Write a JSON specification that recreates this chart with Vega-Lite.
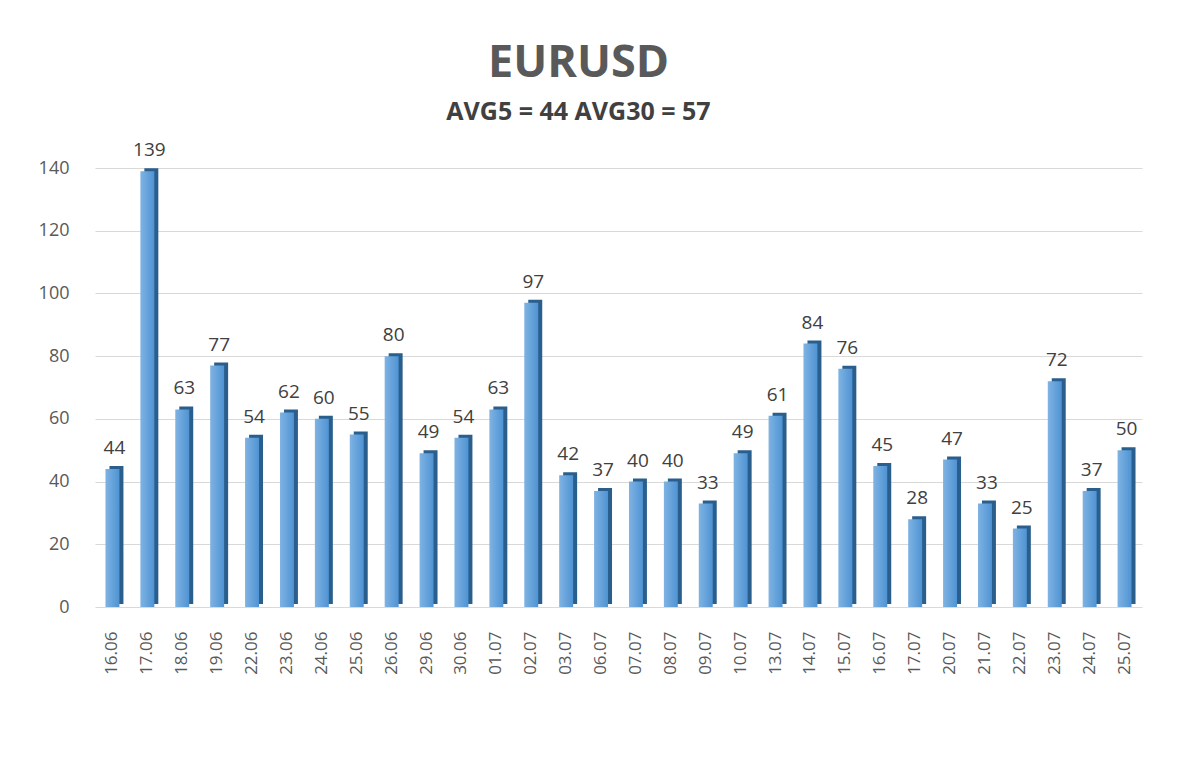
{
  "$schema": "https://vega.github.io/schema/vega-lite/v6.json",
  "autosize": {"type": "none"},
  "width": 1047,
  "height": 439,
  "padding": {"left": 95, "top": 168, "right": 58, "bottom": 153},
  "background": "white",
  "title": {
    "text": "EURUSD",
    "subtitle": "AVG5 = 44 AVG30 = 57",
    "anchor": "middle",
    "dx": -40,
    "offset": 16,
    "font": "Open Sans",
    "fontSize": 45,
    "fontWeight": "bold",
    "color": "#595959",
    "subtitleFont": "Open Sans",
    "subtitleFontSize": 25,
    "subtitleFontWeight": "bold",
    "subtitleColor": "#404040",
    "subtitlePadding": 14
  },
  "data": {
    "values": [
      {"date": "16.06", "value": 44},
      {"date": "17.06", "value": 139},
      {"date": "18.06", "value": 63},
      {"date": "19.06", "value": 77},
      {"date": "22.06", "value": 54},
      {"date": "23.06", "value": 62},
      {"date": "24.06", "value": 60},
      {"date": "25.06", "value": 55},
      {"date": "26.06", "value": 80},
      {"date": "29.06", "value": 49},
      {"date": "30.06", "value": 54},
      {"date": "01.07", "value": 63},
      {"date": "02.07", "value": 97},
      {"date": "03.07", "value": 42},
      {"date": "06.07", "value": 37},
      {"date": "07.07", "value": 40},
      {"date": "08.07", "value": 40},
      {"date": "09.07", "value": 33},
      {"date": "10.07", "value": 49},
      {"date": "13.07", "value": 61},
      {"date": "14.07", "value": 84},
      {"date": "15.07", "value": 76},
      {"date": "16.07", "value": 45},
      {"date": "17.07", "value": 28},
      {"date": "20.07", "value": 47},
      {"date": "21.07", "value": 33},
      {"date": "22.07", "value": 25},
      {"date": "23.07", "value": 72},
      {"date": "24.07", "value": 37},
      {"date": "25.07", "value": 50}
    ]
  },
  "encoding": {
    "x": {
      "field": "date",
      "type": "nominal",
      "sort": null,
      "title": null,
      "scale": {"paddingInner": 0.6, "paddingOuter": 0.3},
      "axis": {
        "labelAngle": -90,
        "labelFont": "Open Sans",
        "labelFontSize": 17,
        "labelColor": "#595959",
        "labelPadding": 24,
        "ticks": false,
        "domain": false
      }
    },
    "y": {
      "field": "value",
      "type": "quantitative",
      "title": null,
      "scale": {"domain": [0, 140]},
      "axis": {
        "values": [0, 20, 40, 60, 80, 100, 120, 140],
        "labelFont": "Open Sans",
        "labelFontSize": 18,
        "labelColor": "#595959",
        "labelPadding": 26,
        "ticks": false,
        "domain": false,
        "gridColor": "#d9d9d9",
        "gridWidth": 1.2
      }
    }
  },
  "layer": [
    {
      "mark": {"type": "bar", "color": "#2a5e8c", "xOffset": 4, "yOffset": -3}
    },
    {
      "mark": {
        "type": "bar",
        "color": {
          "x1": 0, "y1": 0, "x2": 1, "y2": 0,
          "gradient": "linear",
          "stops": [
            {"offset": 0, "color": "#7fb3e3"},
            {"offset": 1, "color": "#4f93d3"}
          ]
        }
      }
    },
    {
      "mark": {
        "type": "text",
        "baseline": "bottom",
        "dy": -11,
        "dx": 2,
        "font": "Open Sans",
        "fontSize": 19,
        "color": "#404040"
      },
      "encoding": {"text": {"field": "value", "type": "quantitative"}}
    }
  ],
  "config": {"view": {"stroke": null}}
}
